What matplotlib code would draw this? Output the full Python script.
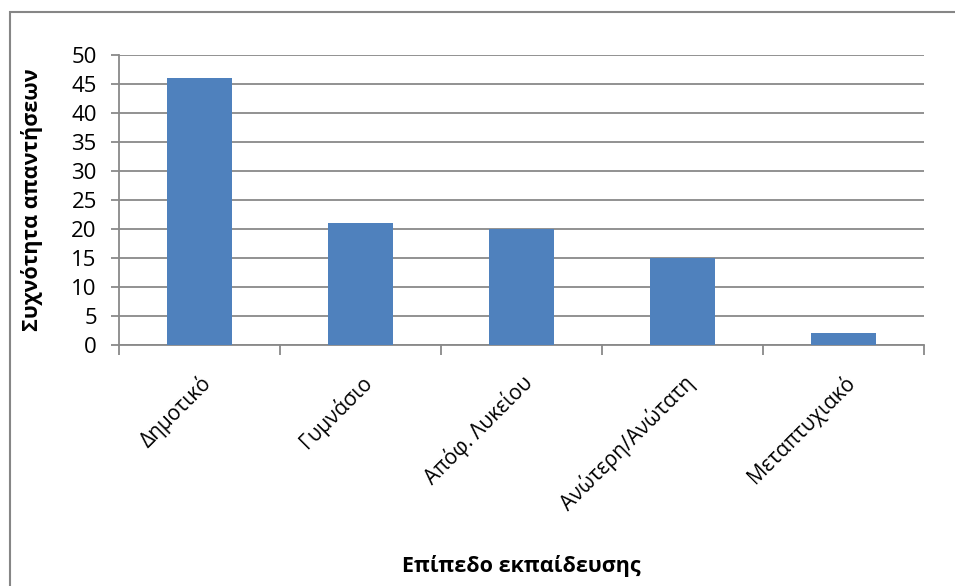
import matplotlib.pyplot as plt
from matplotlib.patches import Rectangle
import matplotlib.transforms as mtransforms

categories = ["Δημοτικό", "Γυμνάσιο", "Απόφ. Λυκείου", "Ανώτερη/Ανώτατη", "Μεταπτυχιακό"]
counts = [46, 21, 20, 15, 2]
y_ticks = [0, 5, 10, 15, 20, 25, 30, 35, 40, 45, 50]

plt.rcParams['font.family'] = ['Open Sans', 'DejaVu Sans']

W, H = 955, 586
fig = plt.figure(figsize=(W / 100, H / 100), dpi=100)

# outer chart border (clipped on right/bottom like the source)
fig.patches.append(Rectangle((9.5 / W, -0.1), 1.2, 1.1 - 12.5 / H, transform=fig.transFigure,
                             fill=False, edgecolor="#868686", linewidth=1.5))

left, right, top, bottom = 119, 924, 55, 345
ax = fig.add_axes([left / W, 1 - bottom / H, (right - left) / W, (bottom - top) / H])

x = list(range(len(categories)))
ax.bar(x, counts, width=0.4, color="#4F81BD", zorder=3)

ax.set_xlim(-0.5, len(categories) - 0.5)
ax.set_ylim(0, 50)
ax.set_yticks(y_ticks)
ax.yaxis.grid(True, color="#898989", linewidth=1.3, zorder=0)

for s in ["top", "right"]:
    ax.spines[s].set_visible(False)
for s in ["left", "bottom"]:
    ax.spines[s].set_color("#898989")
    ax.spines[s].set_linewidth(1.3)

ax.set_xticks([i - 0.5 for i in range(len(categories) + 1)], minor=False)
ax.set_xticklabels([])
ax.set_xticks(x, minor=True)
ax.set_xticklabels(categories, minor=True, rotation=45, ha="right",
                   rotation_mode="anchor", fontsize=15)
shift = mtransforms.ScaledTranslation(3 / 100, 0, fig.dpi_scale_trans)
for lbl in ax.get_xticklabels(minor=True):
    lbl.set_transform(lbl.get_transform() + shift)
ax.tick_params(axis="x", which="minor", length=0, pad=19)
ax.tick_params(axis="x", which="major", length=7, width=1.3, color="#898989")
ax.tick_params(axis="y", length=6, width=1.3, color="#898989", labelsize=16, pad=10)

ax.set_ylabel("Συχνότητα απαντήσεων", fontsize=15.5, fontweight="bold")
ax.yaxis.set_label_coords((43 - left) / (right - left), 0.5)
fig.text(521 / W, 1 - 566 / H, "Επίπεδο εκπαίδευσης", ha="center", va="center",
         fontsize=15.5, fontweight="bold")

plt.savefig("out.png", dpi=100)
